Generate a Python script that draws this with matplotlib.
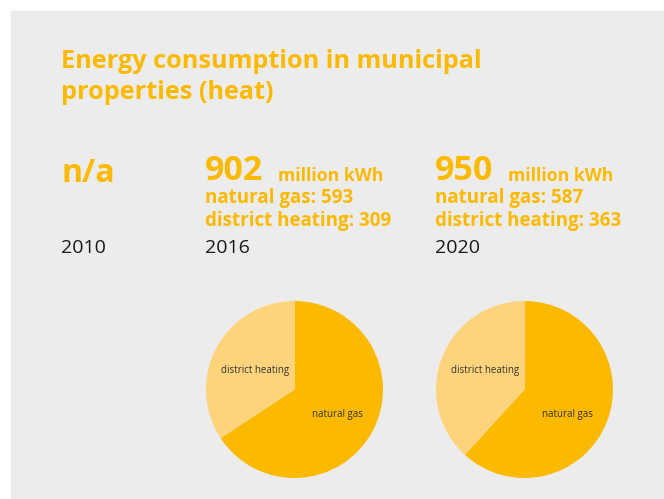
import matplotlib.pyplot as plt
from matplotlib.patches import Rectangle

W, H = 664, 499
DPI = 100

YELLOW = "#fbb900"
LIGHT = "#fdd47c"
BG = "#ececec"
FONT = "Open Sans"

# data
years = ["2010", "2016", "2020"]
totals = ["n/a", "902", "950"]
gas = [None, 593, 587]
district = [None, 309, 363]
slice_labels = ["natural gas", "district heating"]

col_x = [61, 205, 435]          # left edge of each column (px)
pie_cx = [None, 294.5, 524.5]   # pie centres (px)
pie_cy = 389.5
pie_r = 88.5


def px(x, y):
    return x / W, 1 - y / H


fig = plt.figure(figsize=(W / DPI, H / DPI), dpi=DPI)
fig.patches.append(Rectangle(px(11, 499), (W - 11) / W, (499 - 11) / H,
                             transform=fig.transFigure, color=BG, zorder=-5))

# title
fig.text(*px(61, 68), "Energy consumption in municipal", fontsize=18.2,
         fontweight="bold", color=YELLOW, family=FONT, va="baseline")
fig.text(*px(61, 99), "properties (heat)", fontsize=18.2,
         fontweight="bold", color=YELLOW, family=FONT, va="baseline")

for i, year in enumerate(years):
    x = col_x[i]
    if gas[i] is None:
        fig.text(*px(x, 182), totals[i], fontsize=23, fontweight="bold",
                 color=YELLOW, family=FONT, va="baseline")
    else:
        fig.text(*px(x, 180), totals[i], fontsize=24.5, fontweight="bold",
                 color=YELLOW, family=FONT, va="baseline")
        fig.text(*px(x + 73, 181), "million kWh", fontsize=12.7,
                 fontweight="bold", color=YELLOW, family=FONT, va="baseline")
        fig.text(*px(x, 203), f"natural gas: {gas[i]}", fontsize=13.5,
                 fontweight="bold", color=YELLOW, family=FONT, va="baseline")
        fig.text(*px(x, 226), f"district heating: {district[i]}", fontsize=13.5,
                 fontweight="bold", color=YELLOW, family=FONT, va="baseline")

        # pie
        cx = pie_cx[i]
        l, b = px(cx - pie_r, pie_cy + pie_r)
        ax = fig.add_axes([l, b, 2 * pie_r / W, 2 * pie_r / H])
        ax.pie([gas[i], district[i]], colors=[YELLOW, LIGHT], startangle=90,
               counterclock=False, radius=1,
               wedgeprops=dict(linewidth=0))
        ax.set_xlim(-1, 1)
        ax.set_ylim(-1, 1)
        ax.set_aspect("equal")
        ax.axis("off")
        ax.text(0.49, -0.28, slice_labels[0], fontsize=7, color="#333333",
                family=FONT, ha="center", va="center")
        ax.text(-0.45, 0.22, slice_labels[1], fontsize=7, color="#333333",
                family=FONT, ha="center", va="center")

    fig.text(*px(x, 253), year, fontsize=14, color="#1a1a1a",
             family=FONT, va="baseline")

fig.savefig("out.png", dpi=DPI)
